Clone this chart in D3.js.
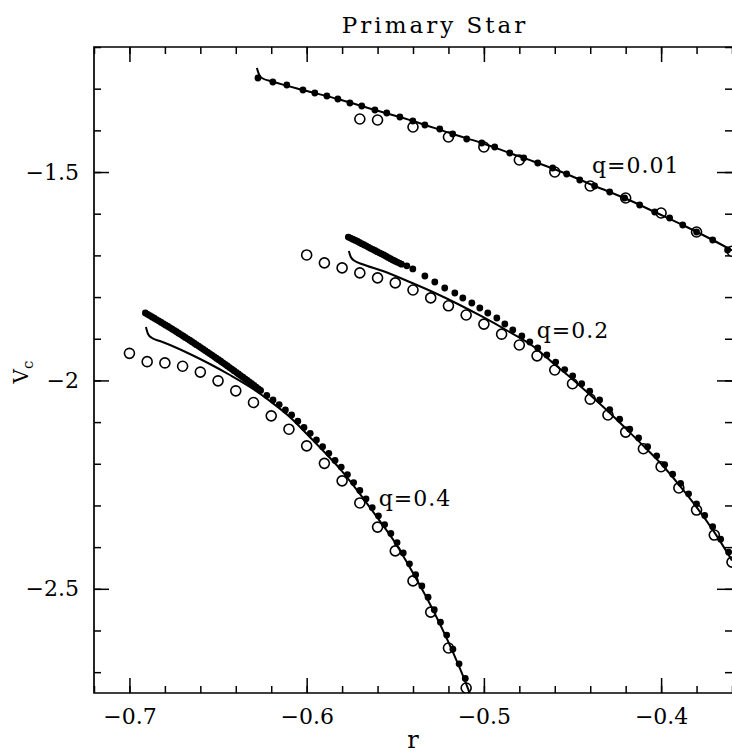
<!DOCTYPE html>
<html>
<head>
<meta charset="utf-8">
<script src="https://cdn.jsdelivr.net/npm/d3@7/dist/d3.min.js"></script>
<style>
  html, body { margin: 0; padding: 0; background: #fff; }
  svg { display: block; }
</style>
</head>
<body>
<svg id="chart" width="732" height="756"></svg>
<script>
// ---- Axis settings ----
const rDomain = [-0.72, -0.36];
const vDomain = [-1.2, -2.75];
const xMajorTicks = [-0.7, -0.6, -0.5, -0.4];
const yMajorTicks = [-1.5, -2.0, -2.5];
const seriesLabels = ["q=0.01", "q=0.2", "q=0.4"];

// ---- q = 0.01 ----
const filledR001 = [-0.6275, -0.6191, -0.6112, -0.6021, -0.5954, -0.5886, -0.5824, -0.5756, -0.5689, -0.5615,
  -0.5548, -0.5474, -0.5401, -0.5333, -0.5249, -0.5176, -0.5097, -0.5012, -0.4939, -0.4854, -0.4775, -0.4696,
  -0.4612, -0.4533, -0.4459, -0.4375, -0.4290, -0.4206, -0.4121, -0.4036, -0.3952, -0.3878, -0.3800, -0.3709, -0.3625];
const filledV001 = [-1.2744, -1.2840, -1.2912, -1.3032, -1.3104, -1.3176, -1.3248, -1.3344, -1.3416, -1.3512,
  -1.3583, -1.3679, -1.3775, -1.3871, -1.3967, -1.4087, -1.4207, -1.4303, -1.4399, -1.4543, -1.4663, -1.4783,
  -1.4903, -1.5047, -1.5191, -1.5335, -1.5479, -1.5623, -1.5791, -1.5959, -1.6103, -1.6271, -1.6439, -1.6631, -1.6871];
const lineR001 = [-0.6281, -0.6270, -0.6253, -0.6191, -0.6021, -0.5824, -0.5615, -0.5401, -0.5176, -0.5012,
  -0.4854, -0.4696, -0.4533, -0.4375, -0.4206, -0.4036, -0.3878, -0.3709, -0.3600];
const lineV001 = [-1.2504, -1.2648, -1.2744, -1.2830, -1.3032, -1.3248, -1.3512, -1.3775, -1.4087, -1.4303,
  -1.4543, -1.4783, -1.5047, -1.5335, -1.5623, -1.5959, -1.6271, -1.6631, -1.6880];
const openR001 = [-0.57, -0.56, -0.54, -0.52, -0.50, -0.48, -0.46, -0.44, -0.42, -0.40, -0.38, -0.36];
const openV001 = [-1.3727, -1.3751, -1.3919, -1.4159, -1.4399, -1.4711, -1.4999, -1.5335, -1.5623, -1.5983, -1.6439, -1.6900];

// ---- q = 0.2 ----
// dense run of filled points near the start of the sequence
const bandR02 = [-0.57650, -0.57525, -0.57400, -0.57275, -0.57150, -0.57025, -0.56900, -0.56775, -0.56650,
  -0.56525, -0.56400, -0.56275, -0.56150, -0.56025, -0.55900, -0.55775, -0.55650, -0.55525, -0.55400,
  -0.55275, -0.55150, -0.55025, -0.54900, -0.54775, -0.54650];
const bandV02 = [-1.6560, -1.6585, -1.6610, -1.6635, -1.6660, -1.6690, -1.6720, -1.6745, -1.6770,
  -1.6800, -1.6830, -1.6855, -1.6880, -1.6910, -1.6940, -1.6965, -1.6990, -1.7020, -1.7050,
  -1.7080, -1.7110, -1.7135, -1.7160, -1.7185, -1.7210];
const filledR02 = [-0.5435, -0.5401, -0.5333, -0.5277, -0.5221, -0.5164, -0.5119, -0.5068, -0.5023,
  -0.4978, -0.4927, -0.4882, -0.4837, -0.4786, -0.4741, -0.4696, -0.4645, -0.4595, -0.4544, -0.4499, -0.4448,
  -0.4403, -0.4347, -0.4290, -0.4234, -0.4177, -0.4127, -0.4076, -0.4025, -0.3980, -0.3935, -0.3890, -0.3845,
  -0.3800, -0.3754, -0.3709, -0.3664, -0.3619];
const filledV02 = [-1.725, -1.7326, -1.7494, -1.7638, -1.7782, -1.7902, -1.8022, -1.8142, -1.8262,
  -1.8382, -1.8502, -1.8646, -1.8790, -1.8934, -1.9078, -1.9222, -1.9390, -1.956, -1.974, -1.989, -2.008,
  -2.026, -2.047, -2.070, -2.093, -2.117, -2.138, -2.159, -2.181, -2.202, -2.225, -2.247, -2.272,
  -2.296, -2.324, -2.351, -2.381, -2.412];
const lineR02 = [-0.5762, -0.5751, -0.5728, -0.5689, -0.5570, -0.5418, -0.5288, -0.5147, -0.5006, -0.4865,
  -0.4724, -0.46, -0.45, -0.44, -0.43, -0.42, -0.41, -0.40, -0.39, -0.38, -0.37, -0.36];
const lineV02 = [-1.6894, -1.7038, -1.7134, -1.7206, -1.7374, -1.7638, -1.7878, -1.8166, -1.8478, -1.8814,
  -1.9174, -1.962, -1.997, -2.035, -2.074, -2.115, -2.157, -2.200, -2.250, -2.304, -2.364, -2.432];
const openR02 = [-0.60, -0.59, -0.58, -0.57, -0.56, -0.55, -0.54, -0.53, -0.52, -0.51, -0.50, -0.49, -0.48,
  -0.47, -0.46, -0.45, -0.44, -0.43, -0.42, -0.41, -0.40, -0.39, -0.38, -0.37, -0.36];
const openV02 = [-1.699, -1.718, -1.730, -1.742, -1.754, -1.766, -1.783, -1.802, -1.821, -1.843, -1.865, -1.889, -1.915,
  -1.941, -1.975, -2.008, -2.045, -2.083, -2.124, -2.164, -2.207, -2.258, -2.311, -2.371, -2.436];

// ---- q = 0.4 ----
const bandR04 = [-0.69100, -0.68975, -0.68850, -0.68725, -0.68600, -0.68475, -0.68350, -0.68225, -0.68100,
  -0.67975, -0.67850, -0.67725, -0.67600, -0.67475, -0.67350, -0.67225, -0.67100, -0.66975, -0.66850,
  -0.66725, -0.66600, -0.66475, -0.66350, -0.66225, -0.66100, -0.65975, -0.65850, -0.65725, -0.65600,
  -0.65475, -0.65350, -0.65225, -0.65100, -0.64975, -0.64850, -0.64725, -0.64600, -0.64475, -0.64350,
  -0.64225, -0.64100, -0.63975, -0.63850, -0.63725, -0.63600, -0.63475, -0.63350, -0.63225, -0.63100,
  -0.62975, -0.62850, -0.62725, -0.62600];
const bandV04 = [-1.8382, -1.8413, -1.8444, -1.8476, -1.8507, -1.8539, -1.8571, -1.8603, -1.8635,
  -1.8668, -1.8700, -1.8733, -1.8766, -1.8799, -1.8832, -1.8866, -1.8900, -1.8934, -1.8968,
  -1.9002, -1.9036, -1.9071, -1.9106, -1.9142, -1.9177, -1.9213, -1.9248, -1.9284, -1.9320,
  -1.9356, -1.9392, -1.9429, -1.9466, -1.9503, -1.9540, -1.9578, -1.9615, -1.9653, -1.9691,
  -1.9729, -1.9767, -1.9806, -1.9844, -1.9883, -1.9922, -1.9961, -2.0000, -2.0040, -2.0080,
  -2.0120, -2.0160, -2.0201, -2.0241];
const filledR04 = [-0.6225, -0.6190, -0.6155, -0.6120, -0.6085, -0.6050, -0.6015,
  -0.5980, -0.5945, -0.5910, -0.5875, -0.5840, -0.5805, -0.5770, -0.5735, -0.5700, -0.5665, -0.5630, -0.5595,
  -0.5560, -0.5525, -0.5490, -0.5455, -0.5420, -0.5385, -0.5350, -0.5315, -0.5280, -0.5245, -0.5210, -0.5175,
  -0.5140, -0.5105];
const filledV04 = [-2.036, -2.047, -2.058, -2.071, -2.083, -2.098, -2.113,
  -2.127, -2.143, -2.159, -2.175, -2.192, -2.208, -2.226, -2.245, -2.264, -2.284, -2.305, -2.325,
  -2.346, -2.367, -2.389, -2.414, -2.440, -2.466, -2.493, -2.520, -2.550, -2.580, -2.611, -2.645,
  -2.680, -2.715];
const lineR04 = [-0.6907, -0.6895, -0.6873, -0.6828, -0.6771, -0.6659, -0.6546, -0.6433, -0.6320, -0.6208,
  -0.6095, -0.6010, -0.59, -0.58, -0.57, -0.56, -0.55, -0.54, -0.53, -0.52, -0.51, -0.505];
const lineV04 = [-1.8718, -1.8886, -1.8982, -1.9054, -1.9150, -1.9366, -1.9606, -1.9870, -2.0157, -2.0493,
  -2.0877, -2.1237, -2.172, -2.218, -2.272, -2.330, -2.390, -2.462, -2.540, -2.628, -2.728, -2.785];
const openR04 = [-0.70, -0.69, -0.68, -0.67, -0.66, -0.65, -0.64, -0.63, -0.62, -0.61, -0.60, -0.59, -0.58,
  -0.57, -0.56, -0.55, -0.54, -0.53, -0.52, -0.51];
const openV04 = [-1.935, -1.955, -1.958, -1.966, -1.980, -2.001, -2.025, -2.053, -2.085, -2.117, -2.157, -2.199,
  -2.241, -2.294, -2.352, -2.409, -2.481, -2.556, -2.642, -2.738];

// ---- Layout ----
const X0 = 94, X1 = 732, Y0 = 47, Y1 = 693;
const FONT = "'DejaVu Serif', 'Liberation Serif', serif";
const INK = "#000";

const svg = d3.select("#chart");
const x = d3.scaleLinear().domain(rDomain).range([X0, X1]);
const y = d3.scaleLinear().domain(vDomain).range([Y0, Y1]);

svg.append("rect").attr("width", 732).attr("height", 756).attr("fill", "#fff");

svg.append("defs").append("clipPath").attr("id", "plot-clip")
  .append("rect").attr("x", X0).attr("y", Y0).attr("width", X1 - X0).attr("height", Y1 - Y0);

// ---- Axes: minor + major ticks pointing inward on all four sides ----
const xMinorTicks = d3.range(-0.72, -0.359, 0.02);
const yMinorTicks = d3.range(-1.2, -2.751, -0.1);
const MINOR = 7, MAJOR = 15;

function styleAxis(g) {
  g.select(".domain").remove();
  g.selectAll(".tick line").attr("stroke", INK).attr("stroke-width", 1.5);
  g.selectAll(".tick text").attr("fill", INK).attr("font-family", FONT).attr("font-size", 22);
}

const fmt = d3.format("");
function addAxis(maker, scale, transform, minor, major, labelled, pad) {
  svg.append("g").attr("transform", transform)
    .call(maker(scale).tickValues(minor).tickSize(-MINOR).tickFormat(""))
    .call(styleAxis);
  svg.append("g").attr("transform", transform)
    .call(maker(scale).tickValues(major).tickSize(-MAJOR).tickPadding(pad)
      .tickFormat(labelled ? fmt : ""))
    .call(styleAxis);
}

addAxis(d3.axisBottom, x, `translate(0,${Y1})`, xMinorTicks, xMajorTicks, true, 15);
addAxis(d3.axisTop, x, `translate(0,${Y0})`, xMinorTicks, xMajorTicks, false, 0);
addAxis(d3.axisLeft, y, `translate(${X0},0)`, yMinorTicks, yMajorTicks, true, 15);
addAxis(d3.axisRight, y, `translate(${X1},0)`, yMinorTicks, yMajorTicks, false, 0);

// frame (left, top, bottom)
svg.append("path")
  .attr("d", `M${X1},${Y0}H${X0}V${Y1}H${X1}`)
  .attr("fill", "none").attr("stroke", INK).attr("stroke-width", 1.7);

// ---- Series ----
const series = [
  { filled: d3.zip(filledR001, filledV001), line: d3.zip(lineR001, lineV001), open: d3.zip(openR001, openV001) },
  { filled: d3.zip(bandR02, bandV02).concat(d3.zip(filledR02, filledV02)), line: d3.zip(lineR02, lineV02), open: d3.zip(openR02, openV02) },
  { filled: d3.zip(bandR04, bandV04).concat(d3.zip(filledR04, filledV04)), line: d3.zip(lineR04, lineV04), open: d3.zip(openR04, openV04) }
];

const plot = svg.append("g").attr("clip-path", "url(#plot-clip)");
const lineGen = d3.line().x(d => x(d[0])).y(d => y(d[1])).curve(d3.curveMonotoneX);

series.forEach(s => {
  const g = plot.append("g");
  g.selectAll("circle.open").data(s.open).join("circle")
    .attr("class", "open")
    .attr("cx", d => x(d[0])).attr("cy", d => y(d[1])).attr("r", 5)
    .attr("fill", "#fff").attr("stroke", INK).attr("stroke-width", 1.6);
  g.append("path").datum(s.line)
    .attr("d", lineGen)
    .attr("fill", "none").attr("stroke", INK).attr("stroke-width", 2);
  g.selectAll("circle.filled").data(s.filled).join("circle")
    .attr("class", "filled")
    .attr("cx", d => x(d[0])).attr("cy", d => y(d[1])).attr("r", 3.4)
    .attr("fill", INK);
});

// ---- Curve labels ----
const labelPos = [[-0.439, -1.502], [-0.4702, -1.898], [-0.5593, -2.301]];
svg.selectAll("text.qlab").data(seriesLabels).join("text")
  .attr("class", "qlab")
  .attr("x", (d, i) => x(labelPos[i][0]))
  .attr("y", (d, i) => y(labelPos[i][1]))
  .attr("font-family", FONT).attr("font-size", 22).attr("letter-spacing", 1)
  .attr("fill", INK)
  .text(d => d);

// ---- Titles ----
svg.append("text")
  .attr("x", 435).attr("y", 33)
  .attr("text-anchor", "middle")
  .attr("font-family", FONT).attr("font-size", 23).attr("letter-spacing", 3)
  .attr("fill", INK)
  .text("Primary Star");

svg.append("text")
  .attr("x", (X0 + X1) / 2).attr("y", 748)
  .attr("text-anchor", "middle")
  .attr("font-family", FONT).attr("font-size", 24)
  .attr("fill", INK)
  .text("r");

const yLab = svg.append("text")
  .attr("transform", "translate(28,372) rotate(-90)")
  .attr("text-anchor", "middle")
  .attr("font-family", FONT).attr("font-size", 20)
  .attr("fill", INK);
yLab.append("tspan").text("V");
yLab.append("tspan").attr("font-size", 15).attr("dy", 5).text("c");
</script>
</body>
</html>
